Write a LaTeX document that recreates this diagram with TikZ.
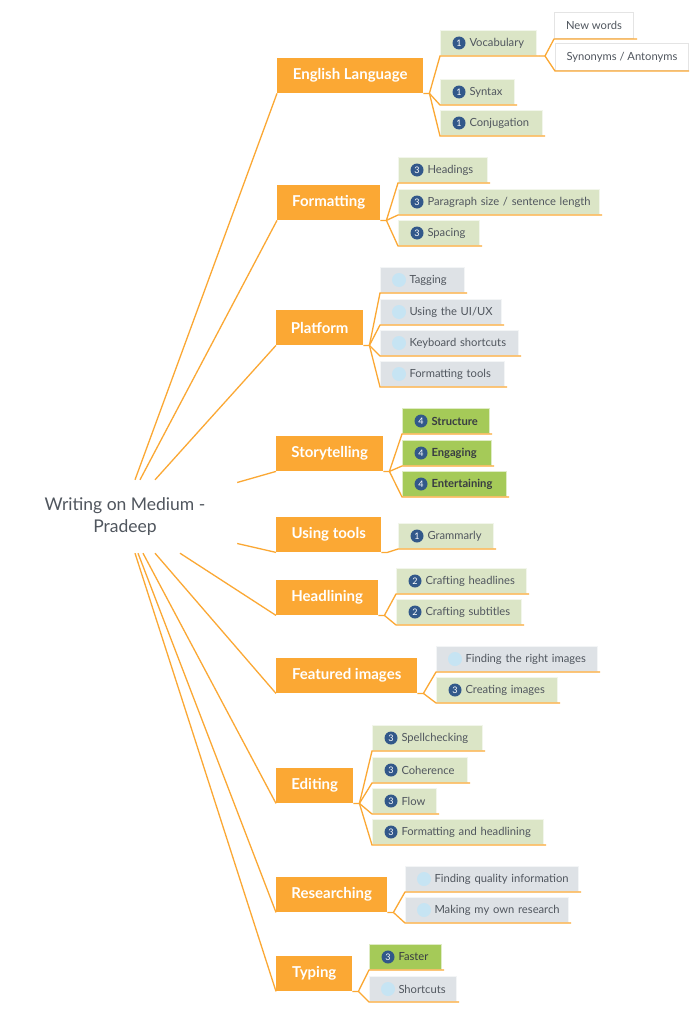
\documentclass[tikz,border=0pt]{standalone}
\usepackage{fontspec}
\setmainfont{Lato}
\usepackage{tikz}
\usetikzlibrary{positioning, calc}
\definecolor{MapOrange}{RGB}{251, 168, 52}
\definecolor{LeafGreen}{RGB}{219, 229, 198}
\definecolor{DoneGreen}{RGB}{165, 202, 88}
\definecolor{TodoGray}{RGB}{222, 226, 230}
\definecolor{BadgeBlue}{RGB}{50, 88, 138}
\definecolor{DotBlue}{RGB}{198, 228, 243}
\definecolor{MapText}{RGB}{80, 86, 94}
\definecolor{NoteBorder}{RGB}{228, 228, 228}

\tikzset{
  link/.style={draw=MapOrange, line width=1.3pt},
  topic/.style={anchor=north west, fill=MapOrange, text=white, minimum height=35pt, inner sep=0pt,
                font=\fontsize{15}{18}\selectfont\bfseries},
  leaf/.style={anchor=north west, fill=LeafGreen, draw=LeafGreen!35!white, line width=1pt,
               minimum height=25pt, text width=#1, inner xsep=4pt, inner ysep=0pt, align=left,
               text=MapText, font=\fontsize{11.2}{13}\selectfont,
               execute at begin node={\leavevmode\hspace*{25pt}}},
  done/.style={leaf=#1, fill=DoneGreen, draw=DoneGreen!35!white, text=MapText!70!black,
               font=\fontsize{11.2}{13}\selectfont\bfseries},
  todo/.style={leaf=#1, fill=TodoGray, draw=TodoGray!35!white},
  note/.style={anchor=north west, fill=white, draw=NoteBorder, line width=1pt, inner sep=0pt,
               text=MapText, font=\fontsize{11.2}{13}\selectfont},
  badge/.style={circle, fill=BadgeBlue, text=white, minimum size=13pt, inner sep=0pt,
                font=\fontsize{9}{9}\selectfont},
  dot/.style={circle, fill=DotBlue, minimum size=14pt, inner sep=0pt},
}

\begin{document}
\begin{tikzpicture}[x=1pt, y=-1pt]
    \fill[white] (0,0) rectangle (700,1033);
    \path[use as bounding box] (0,0) rectangle (700,1033);

    % central topic
    \node[font=\fontsize{17.5}{22}\selectfont, text=MapText, align=center, minimum width=224pt,
          minimum height=73pt, inner sep=0pt] (root) at (125,516.5) {Writing on Medium -\\Pradeep};

    % main topics
    \node[topic, minimum width=146pt] (eng) at (277,58) {English Language};
    \node[topic, minimum width=103pt] (fmt) at (277,185) {Formatting};
    \node[topic, minimum width=87pt] (plat) at (276,310) {Platform};
    \node[topic, minimum width=107pt] (story) at (276,436) {Storytelling};
    \node[topic, minimum width=105pt] (tools) at (276,517) {Using tools};
    \node[topic, minimum width=102pt] (head) at (276,580) {Headlining};
    \node[topic, minimum width=141pt] (feat) at (276,658) {Featured images};
    \node[topic, minimum width=77pt] (edit) at (276,768) {Editing};
    \node[topic, minimum width=111pt] (res) at (276,877) {Researching};
    \node[topic, minimum width=76pt] (typing) at (276,956) {Typing};

    % English Language
    \node[leaf=88pt] (voc) at (440,30) {Vocabulary};
    \node[note, minimum width=79pt, minimum height=26pt] (neww) at (554,12) {New words};
    \node[note, minimum width=133pt, minimum height=27pt] (syn) at (555,43) {Synonyms / Antonyms};
    \node[leaf=66pt] (syntax) at (440,79) {Syntax};
    \node[leaf=94pt] (conj) at (440,110) {Conjugation};
    \node[badge] (voc-n) at ([xshift=19pt]voc.west) {1};
    \node[badge] (syntax-n) at ([xshift=19pt]syntax.west) {1};
    \node[badge] (conj-n) at ([xshift=19pt]conj.west) {1};

    % Formatting
    \node[leaf=81pt] (headings) at (398,157) {Headings};
    \node[leaf=193pt] (parag) at (398,189) {Paragraph size / sentence length};
    \node[leaf=73pt] (spacing) at (398,220) {Spacing};
    \node[badge] (headings-n) at ([xshift=19pt]headings.west) {3};
    \node[badge] (parag-n) at ([xshift=19pt]parag.west) {3};
    \node[badge] (spacing-n) at ([xshift=19pt]spacing.west) {3};

    % Platform
    \node[todo=76pt] (tagging) at (380,267) {Tagging};
    \node[todo=113pt] (uiux) at (380,299) {Using the UI/UX};
    \node[todo=130pt] (keys) at (380,330) {Keyboard shortcuts};
    \node[todo=116pt] (ftools) at (380,361) {Formatting tools};
    \node[dot] (tagging-n) at ([xshift=19pt]tagging.west) {};
    \node[dot] (uiux-n) at ([xshift=19pt]uiux.west) {};
    \node[dot] (keys-n) at ([xshift=19pt]keys.west) {};
    \node[dot] (ftools-n) at ([xshift=19pt]ftools.west) {};

    % Storytelling
    \node[done=79pt] (structure) at (402,408) {Structure};
    \node[done=81pt] (engaging) at (402,440) {Engaging};
    \node[done=96pt] (entert) at (402,471) {Entertaining};
    \node[badge] (structure-n) at ([xshift=19pt]structure.west) {4};
    \node[badge] (engaging-n) at ([xshift=19pt]engaging.west) {4};
    \node[badge] (entert-n) at ([xshift=19pt]entert.west) {4};

    % Using tools
    \node[leaf=87pt] (gramm) at (398,523) {Grammarly};
    \node[badge] (gramm-n) at ([xshift=19pt]gramm.west) {1};

    % Headlining
    \node[leaf=122pt] (chead) at (396,568) {Crafting headlines};
    \node[leaf=117pt] (csub) at (396,599) {Crafting subtitles};
    \node[badge] (chead-n) at ([xshift=19pt]chead.west) {2};
    \node[badge] (csub-n) at ([xshift=19pt]csub.west) {2};

    % Featured images
    \node[todo=153pt] (fimg) at (436,646) {Finding the right images};
    \node[leaf=113pt] (cimg) at (436,677) {Creating images};
    \node[dot] (fimg-n) at ([xshift=19pt]fimg.west) {};
    \node[badge] (cimg-n) at ([xshift=19pt]cimg.west) {3};

    % Editing
    \node[leaf=102pt] (spell) at (372,725) {Spellchecking};
    \node[leaf=87pt] (coher) at (372,757) {Coherence};
    \node[leaf=56pt] (flow) at (372,788) {Flow};
    \node[leaf=163pt] (fhead) at (372,819) {Formatting and headlining};
    \node[badge] (spell-n) at ([xshift=19pt]spell.west) {3};
    \node[badge] (coher-n) at ([xshift=19pt]coher.west) {3};
    \node[badge] (flow-n) at ([xshift=19pt]flow.west) {3};
    \node[badge] (fhead-n) at ([xshift=19pt]fhead.west) {3};

    % Researching
    \node[todo=165pt] (fqual) at (405,866) {Finding quality information};
    \node[todo=155pt] (mown) at (405,897) {Making my own research};
    \node[dot] (fqual-n) at ([xshift=19pt]fqual.west) {};
    \node[dot] (mown-n) at ([xshift=19pt]mown.west) {};

    % Typing
    \node[done=64pt, font=\fontsize{11.2}{13}\selectfont] (faster) at (369,944) {Faster};
    \node[todo=79pt] (shortc) at (369,976) {Shortcuts};
    \node[badge] (faster-n) at ([xshift=19pt]faster.west) {3};
    \node[dot] (shortc-n) at ([xshift=19pt]shortc.west) {};

    % root to main topics
    \draw[link] ([xshift=10pt]root.north) -- (eng.south west);
    \draw[link] ([xshift=15pt]root.north) -- (fmt.south west);
    \draw[link] ([xshift=30pt]root.north) -- (plat.south west);
    \draw[link] ([yshift=34pt]root.east) -- (story.south west);
    \draw[link] ([yshift=-27pt]root.east) -- (tools.south west);
    \draw[link] ([xshift=55pt]root.south) -- (head.south west);
    \draw[link] ([xshift=30pt]root.south) -- (feat.south west);
    \draw[link] ([xshift=18pt]root.south) -- (edit.south west);
    \draw[link] ([xshift=13pt]root.south) -- (res.south west);
    \draw[link] ([xshift=10pt]root.south) -- (typing.south west);

    % main topics to leaves
    \draw[link] (eng.south east) -- ++(6,0) coordinate (eng-b) -- (voc.south west) -- ([xshift=2pt]voc.south east);
    \draw[link] (eng-b) -- (syntax.south west) -- ([xshift=2pt]syntax.south east);
    \draw[link] (eng-b) -- (conj.south west) -- ([xshift=2pt]conj.south east);
    \draw[link] ([xshift=2pt]voc.south east) -- ++(6,0) coordinate (voc-b) -- (neww.south west) -- ([xshift=3pt]neww.south east);
    \draw[link] (voc-b) -- (syn.south west) -- (syn.south east);

    \draw[link] (fmt.south east) -- ++(6,0) coordinate (fmt-b) -- (headings.south west) -- ([xshift=2pt]headings.south east);
    \draw[link] (fmt-b) -- (parag.south west) -- ([xshift=2pt]parag.south east);
    \draw[link] (fmt-b) -- (spacing.south west) -- ([xshift=2pt]spacing.south east);

    \draw[link] (plat.south east) -- ++(6,0) coordinate (plat-b) -- (tagging.south west) -- ([xshift=2pt]tagging.south east);
    \draw[link] (plat-b) -- (uiux.south west) -- ([xshift=2pt]uiux.south east);
    \draw[link] (plat-b) -- (keys.south west) -- ([xshift=2pt]keys.south east);
    \draw[link] (plat-b) -- (ftools.south west) -- ([xshift=2pt]ftools.south east);

    \draw[link] (story.south east) -- ++(6,0) coordinate (story-b) -- (structure.south west) -- ([xshift=2pt]structure.south east);
    \draw[link] (story-b) -- (engaging.south west) -- ([xshift=2pt]engaging.south east);
    \draw[link] (story-b) -- (entert.south west) -- ([xshift=2pt]entert.south east);

    \draw[link] (tools.south east) -- ++(6,0) coordinate (tools-b) -- (gramm.south west) -- ([xshift=2pt]gramm.south east);

    \draw[link] (head.south east) -- ++(6,0) coordinate (head-b) -- (chead.south west) -- ([xshift=2pt]chead.south east);
    \draw[link] (head-b) -- (csub.south west) -- ([xshift=2pt]csub.south east);

    \draw[link] (feat.south east) -- ++(6,0) coordinate (feat-b) -- (fimg.south west) -- ([xshift=2pt]fimg.south east);
    \draw[link] (feat-b) -- (cimg.south west) -- ([xshift=2pt]cimg.south east);

    \draw[link] (edit.south east) -- ++(6,0) coordinate (edit-b) -- (spell.south west) -- ([xshift=2pt]spell.south east);
    \draw[link] (edit-b) -- (coher.south west) -- ([xshift=2pt]coher.south east);
    \draw[link] (edit-b) -- (flow.south west) -- ([xshift=2pt]flow.south east);
    \draw[link] (edit-b) -- (fhead.south west) -- ([xshift=2pt]fhead.south east);

    \draw[link] (res.south east) -- ++(6,0) coordinate (res-b) -- (fqual.south west) -- ([xshift=2pt]fqual.south east);
    \draw[link] (res-b) -- (mown.south west) -- ([xshift=2pt]mown.south east);

    \draw[link] (typing.south east) -- ++(6,0) coordinate (typing-b) -- (faster.south west) -- ([xshift=2pt]faster.south east);
    \draw[link] (typing-b) -- (shortc.south west) -- ([xshift=2pt]shortc.south east);
\end{tikzpicture}
\end{document}
